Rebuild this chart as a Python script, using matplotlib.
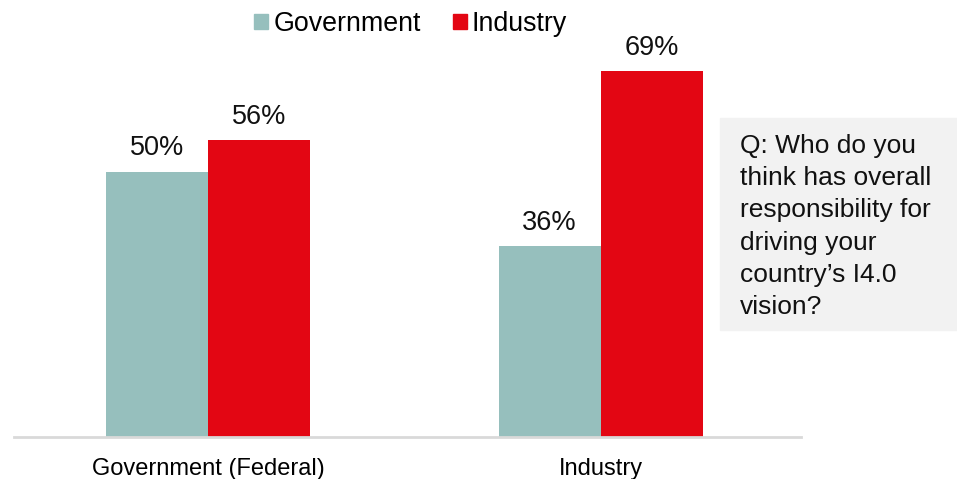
import matplotlib
matplotlib.use('Agg')
import matplotlib.pyplot as plt
import numpy as np
from matplotlib.patches import Patch

categories = ["Government (Federal)", "Industry"]
series_names = ["Government", "Industry"]
government = [50, 36]
industry = [56, 69]

TEAL = "#96bfbd"
RED = "#e30613"

plt.rcParams['font.family'] = ['Liberation Sans', 'DejaVu Sans']

fig = plt.figure(figsize=(9.57, 4.79), dpi=100)
ax = fig.add_axes([0.0146, 0.0877, 0.822, 0.83])

x = np.arange(len(categories))
w = 0.26
b1 = ax.bar(x - w / 2, government, w, color=TEAL)
b2 = ax.bar(x + w / 2, industry, w, color=RED)

for bars, vals in ((b1, government), (b2, industry)):
    for bar, v in zip(bars, vals):
        ax.text(bar.get_x() + bar.get_width() / 2, v + 2.0, f"{v}%",
                ha='center', va='bottom', fontsize=19.5, color='#111111')

ax.set_xlim(-0.494, 1.509)
ax.set_ylim(0, 75)
ax.set_xticks(x)
ax.set_xticklabels(categories, fontsize=17)
ax.tick_params(axis='x', length=0, pad=15)
ax.set_yticks([])
for side in ('top', 'right', 'left'):
    ax.spines[side].set_visible(False)
ax.spines['bottom'].set_color('#d9d9d9')
ax.spines['bottom'].set_linewidth(2)

handles = [Patch(color=TEAL), Patch(color=RED)]
fig.legend(handles, series_names, loc='center', bbox_to_anchor=(0.429, 0.95),
           ncol=2, frameon=False, fontsize=19.3, handlelength=0.52,
           handleheight=0.52, handletextpad=0.2, columnspacing=1.2,
           borderpad=0, borderaxespad=0)

# grey question box on the right
fig.patches.append(matplotlib.patches.Rectangle(
    (720 / 957, 1 - 330 / 479), 237 / 957, 212 / 479,
    transform=fig.transFigure, color='#f2f2f2', zorder=0))
fig.text(740 / 957, 1 - 134 / 479,
         "Q: Who do you\nthink has overall\nresponsibility for\ndriving your\ncountry\u2019s I4.0\nvision?",
         ha='left', va='top', fontsize=19, linespacing=1.43, color='#111111')

fig.savefig('out.png', dpi=100)
